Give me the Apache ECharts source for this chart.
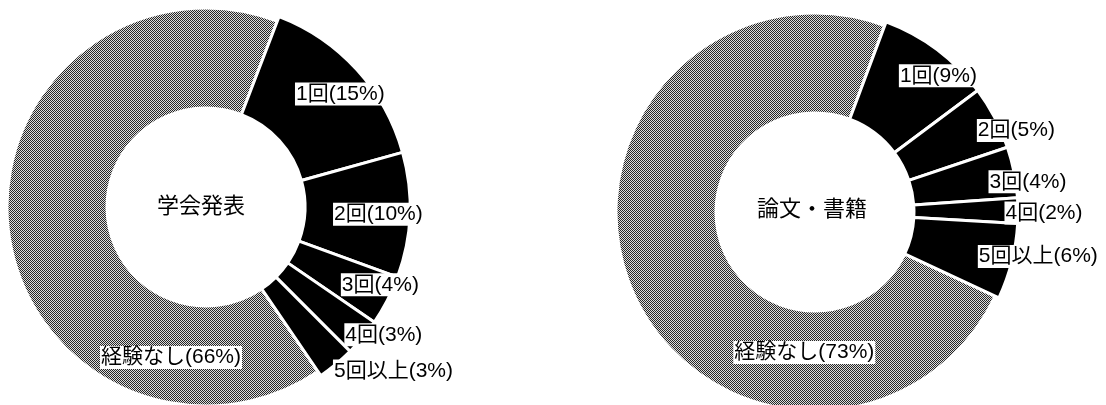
<!DOCTYPE html>
<html>
<head>
<meta charset="utf-8">
<title>学会発表・論文・書籍</title>
<script src="https://cdn.jsdelivr.net/npm/echarts@6/dist/echarts.min.js"></script>
<style>
  html, body { margin: 0; padding: 0; background: #fff; }
  #chart { width: 1106px; height: 405px; }
</style>
</head>
<body>
<div id="chart"></div>
<script>
// Response categories (shared by both donuts)
const categories = ['1回', '2回', '3回', '4回', '5回以上', '経験なし'];
// Percentages per category
const presentationValues = [15, 10, 4, 3, 3, 66];   // 学会発表
const paperValues = [9, 5, 4, 2, 6, 73];            // 論文・書籍
// Donut titles
const chartTitles = ['学会発表', '論文・書籍'];

const FONT = '"Liberation Sans", Arial, "Noto Sans CJK JP", sans-serif';
const NONE_INDEX = categories.length - 1;   // 経験なし

// Halftone fill for the "none" slice
function halftone() {
  const c = document.createElement('canvas');
  c.width = 2; c.height = 2;
  const g = c.getContext('2d');
  g.fillStyle = '#dcdcdc'; g.fillRect(0, 0, 2, 2);
  g.fillStyle = '#262626'; g.fillRect(0, 0, 1, 1); g.fillRect(1, 1, 1, 1);
  return c;
}
const grayFill = { image: halftone(), repeat: 'repeat' };

// Layout of each donut: center, radii of the halftone ring and of the black slices,
// label nudges from the slice's mid point, title nudge
const layouts = [
  {
    center: [206, 207],
    ringRadius: [99, 199], sliceRadius: [99, 204],
    startAngle: 69,
    nudges: [[20, -9], [18, 1], [37, 7], [59, 29], [89, 45], [116, 133]],
    titleNudge: [-5, 0]
  },
  {
    center: [815, 212],
    ringRadius: [99, 199], sliceRadius: [99, 203],
    startAngle: 69.5,
    nudges: [[31, -13], [65, -10], [62, 0], [75, 2], [74, 7], [130, 83]],
    titleNudge: [-3, -2]
  }
];

const labelStyle = {
  show: true,
  position: 'inside',
  formatter: '{b}({c}%)',
  color: '#000',
  fontFamily: FONT,
  fontSize: 21,
  backgroundColor: '#fff',
  padding: [1, 1, 0, 1],
  lineHeight: 22
};

function buildSeries(values, lay) {
  const nudge = (p) => ({ dx: lay.nudges[p.dataIndex][0], dy: lay.nudges[p.dataIndex][1] });
  const common = {
    type: 'pie',
    center: lay.center,
    startAngle: lay.startAngle,
    clockwise: true,
    avoidLabelOverlap: false,
    silent: true,
    animation: false,
    labelLine: { show: false },
    labelLayout: nudge
  };
  // Halftone ring: the "none" slice
  const ring = Object.assign({}, common, {
    radius: lay.ringRadius,
    data: categories.map((name, i) => ({
      name, value: values[i],
      itemStyle: i === NONE_INDEX
        ? { color: grayFill, borderColor: '#fff', borderWidth: 3 }
        : { color: 'transparent', borderWidth: 0 },
      label: i === NONE_INDEX ? labelStyle : { show: false }
    }))
  });
  // Black slices for each answered count
  const slices = Object.assign({}, common, {
    radius: lay.sliceRadius,
    data: categories.map((name, i) => ({
      name, value: values[i],
      itemStyle: i === NONE_INDEX
        ? { color: 'transparent', borderWidth: 0 }
        : { color: '#000', borderColor: '#fff', borderWidth: 3 },
      label: i === NONE_INDEX ? { show: false } : labelStyle
    }))
  });
  return [ring, slices];
}

const chart = echarts.init(document.getElementById('chart'), null, { renderer: 'canvas' });
chart.setOption({
  backgroundColor: '#fff',
  animation: false,
  series: [
    ...buildSeries(presentationValues, layouts[0]),
    ...buildSeries(paperValues, layouts[1])
  ],
  graphic: chartTitles.map((t, k) => ({
    type: 'text',
    x: layouts[k].center[0] + layouts[k].titleNudge[0],
    y: layouts[k].center[1] + layouts[k].titleNudge[1],
    style: {
      text: t,
      fill: '#000',
      font: '22px ' + FONT,
      align: 'center',
      verticalAlign: 'middle'
    }
  }))
});
</script>
</body>
</html>
